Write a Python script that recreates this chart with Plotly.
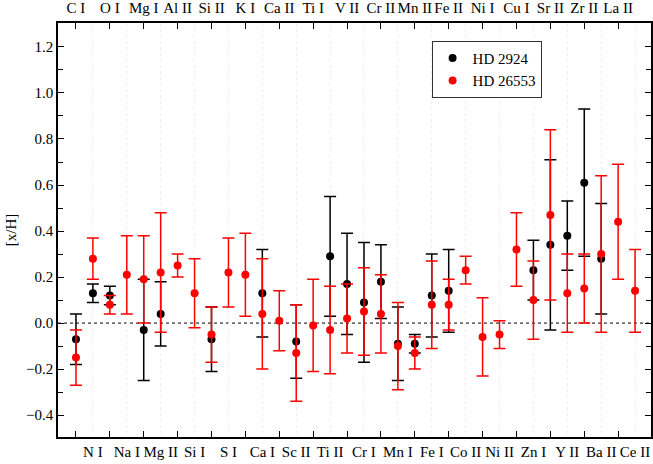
import plotly.graph_objects as go

species = ["C I", "N I", "O I", "Na I", "Mg I", "Mg II", "Al II", "Si I", "Si II", "S I",
           "K I", "Ca I", "Ca II", "Sc II", "Ti I", "Ti II", "V II", "Cr I", "Cr II", "Mn I",
           "Mn II", "Fe I", "Fe II", "Co II", "Ni I", "Ni II", "Cu I", "Zn I", "Sr II", "Y II",
           "Zr II", "Ba II", "La II", "Ce II"]

hd2924 = [-0.07, 0.13, 0.12, None, -0.03, 0.04, None, None, -0.07, None,
          None, 0.13, None, -0.08, None, 0.29, 0.17, 0.09, 0.18, -0.09,
          -0.09, 0.12, 0.14, None, None, None, None, 0.23, 0.34, 0.38,
          0.61, 0.28, None, None]
hd2924_err = [0.11, 0.04, 0.04, None, 0.22, 0.14, None, None, 0.14, None,
              None, 0.19, None, 0.16, None, 0.26, 0.22, 0.26, 0.16, 0.16,
              0.04, 0.18, 0.18, None, None, None, None, 0.13, 0.37, 0.15,
              0.32, 0.24, None, None]

hd26553 = [-0.15, 0.28, 0.08, 0.21, 0.19, 0.22, 0.25, 0.13, -0.05, 0.22,
           0.21, 0.04, 0.01, -0.13, -0.01, -0.03, 0.02, 0.05, 0.04, -0.10,
           -0.13, 0.08, 0.08, 0.23, -0.06, -0.05, 0.32, 0.10, 0.47, 0.13,
           0.15, 0.30, 0.44, 0.14]
hd26553_err = [0.12, 0.09, 0.04, 0.17, 0.19, 0.26, 0.05, 0.15, 0.12, 0.15,
               0.18, 0.24, 0.13, 0.21, 0.20, 0.19, 0.15, 0.19, 0.17, 0.19,
               0.07, 0.19, 0.11, 0.06, 0.17, 0.06, 0.16, 0.17, 0.37, 0.17,
               0.15, 0.34, 0.25, 0.18]

idx = list(range(len(species)))
top_vals = idx[0::2]
top_text = species[0::2]
bot_vals = idx[1::2]
bot_text = species[1::2]

FONT = "Liberation Serif, Times New Roman, serif"

fig = go.Figure()
fig.add_trace(go.Scatter(
    x=idx, y=hd2924, mode="markers", name="HD 2924",
    marker=dict(color="black", size=8),
    error_y=dict(type="data", array=hd2924_err, color="black", thickness=1.5, width=6),
))
fig.add_trace(go.Scatter(
    x=idx, y=hd26553, mode="markers", name="HD 26553",
    marker=dict(color="#ff0000", size=8),
    error_y=dict(type="data", array=hd26553_err, color="#ff0000", thickness=1.5, width=6),
))
# dummy trace to activate the top axis
fig.add_trace(go.Scatter(x=[0], y=[0], xaxis="x2", mode="markers",
                         marker=dict(opacity=0), showlegend=False, hoverinfo="skip"))

xr = [-1.06, 33.94]
fig.update_layout(
    width=653, height=464,
    margin=dict(l=58, r=0, t=23, b=27),
    paper_bgcolor="white", plot_bgcolor="white",
    font=dict(family=FONT, size=15, color="black"),
    showlegend=True,
    legend=dict(x=0.63, y=0.957, xanchor="left", yanchor="top",
                bordercolor="#333", borderwidth=1, bgcolor="white",
                font=dict(family=FONT, size=15), tracegroupgap=0),
    xaxis=dict(range=xr, tickmode="array", tickvals=bot_vals, ticktext=bot_text,
               ticks="", showgrid=True, gridcolor="#eeeeee", griddash="dot", gridwidth=1,
               showline=False, zeroline=False, tickfont=dict(size=15), tickangle=0,
               ticklabelstandoff=4),
    xaxis2=dict(range=xr, overlaying="x", side="top", anchor="y", tickmode="array",
                tickvals=top_vals, ticktext=top_text, ticks="inside", ticklen=6,
                tickcolor="black", showline=True, linecolor="black", linewidth=1.5,
                mirror="ticks", showgrid=False, zeroline=False, tickfont=dict(size=15),
                tickangle=0, ticklabelstandoff=2),
    yaxis=dict(range=[-0.495, 1.304], tickmode="linear", tick0=0, dtick=0.2,
               tickformat=".1f", ticks="inside", ticklen=6, tickcolor="black",
               minor=dict(dtick=0.1, tick0=0, ticks="inside", ticklen=5, tickcolor="black"),
               showline=True, linecolor="black", linewidth=1.5, mirror="ticks",
               showgrid=False, zeroline=False, tickfont=dict(size=15),
               title=dict(text="[x/H]", font=dict(size=15), standoff=6)),
    shapes=[dict(type="line", xref="paper", yref="y", x0=0, x1=1, y0=0, y1=0,
                 line=dict(color="black", width=1, dash="dot"), layer="below")],
)

fig.write_html("out.html")
